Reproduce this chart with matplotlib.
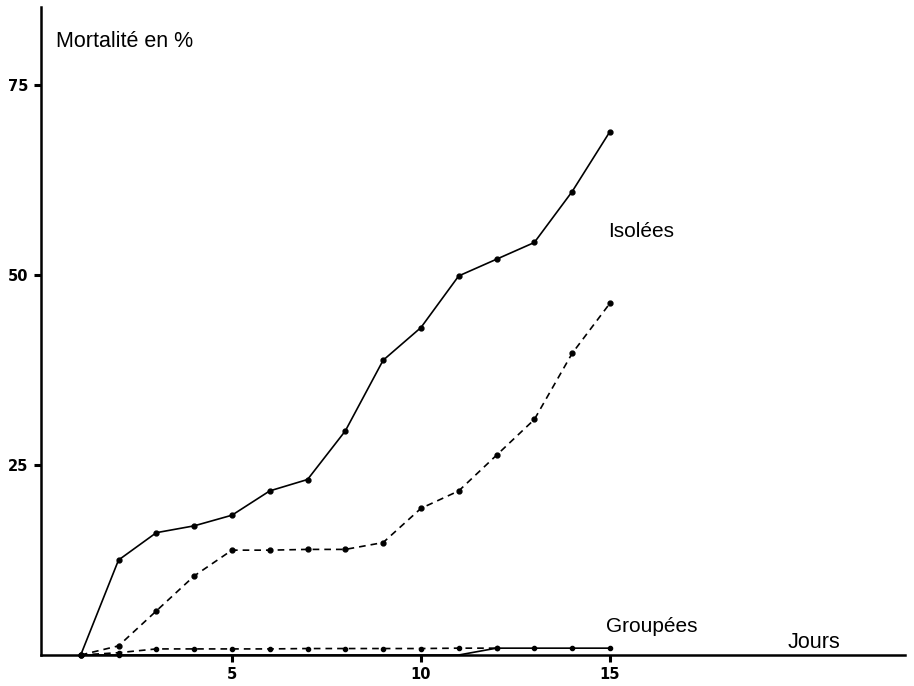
import matplotlib
matplotlib.use("Agg")
import matplotlib.pyplot as plt

# Data
days = list(range(1, 16))
isolees_solid = [0, 12.5, 16.1, 17.0, 18.4, 21.6, 23.1, 29.5, 38.8, 43.1, 49.9, 52.1, 54.3, 61.0, 68.9]
isolees_dashed = [0, 1.2, 5.8, 10.4, 13.8, 13.8, 13.9, 13.9, 14.8, 19.3, 21.6, 26.3, 31.0, 39.7, 46.3]
groupees_dashed_days = list(range(1, 13))
groupees_dashed = [0, 0.3, 0.8, 0.8, 0.8, 0.8, 0.85, 0.85, 0.85, 0.85, 0.9, 0.9]
groupees_solid = [0, 0, 0, 0, 0, 0, 0, 0, 0, 0, 0, 0.9, 0.9, 0.9, 0.9]

x_ticks = [5, 10, 15]
y_ticks = [25, 50, 75]

plt.rcParams['font.family'] = ['Liberation Sans', 'DejaVu Sans']

fig = plt.figure(figsize=(9.14, 6.86), dpi=100)
ax = fig.add_axes([0.0449, 0.0452, 0.945, 0.9446])

lw = 1.2
ms = 3.5
ax.plot(days, isolees_solid, color='black', lw=lw, marker='o', ms=ms, clip_on=False, zorder=3)
ax.plot(days, isolees_dashed, color='black', lw=lw, ls=(0, (4, 3)), marker='o', ms=ms, clip_on=False, zorder=3)
ax.plot(groupees_dashed_days, groupees_dashed, color='black', lw=lw, ls=(0, (4, 3)), marker='o', ms=ms - 0.5, clip_on=False, zorder=3)
marks = [i for i, v in enumerate(groupees_solid) if v > 0] + [1]
ax.plot(days, groupees_solid, color='black', lw=lw, marker='o', ms=ms - 0.5, markevery=marks, clip_on=False, zorder=3)

ax.set_xlim(-0.05, 22.8)
ax.set_ylim(0, 85.3)

for side in ['top', 'right']:
    ax.spines[side].set_visible(False)
for side in ['left', 'bottom']:
    ax.spines[side].set_linewidth(1.8)

ax.set_xticks(x_ticks)
ax.set_xticklabels([str(v) for v in x_ticks], fontweight='bold', fontsize=10.5, family='DejaVu Sans')
ax.set_yticks(y_ticks)
ax.set_yticklabels([str(v) for v in y_ticks], fontweight='bold', fontsize=10.5, family='DejaVu Sans')
ax.tick_params(axis='both', direction='out', length=5, width=2.2, pad=4)

ax.text(0.35, 80.8, "Mortalité en %", fontsize=15.5, ha='left', va='center')
ax.text(14.95, 55.8, "Isolées", fontsize=15, ha='left', va='center')
ax.text(14.9, 3.8, "Groupées", fontsize=15, ha='left', va='center')
ax.text(19.7, 1.7, "Jours", fontsize=15.5, ha='left', va='center')

fig.savefig("out.png", dpi=100)
